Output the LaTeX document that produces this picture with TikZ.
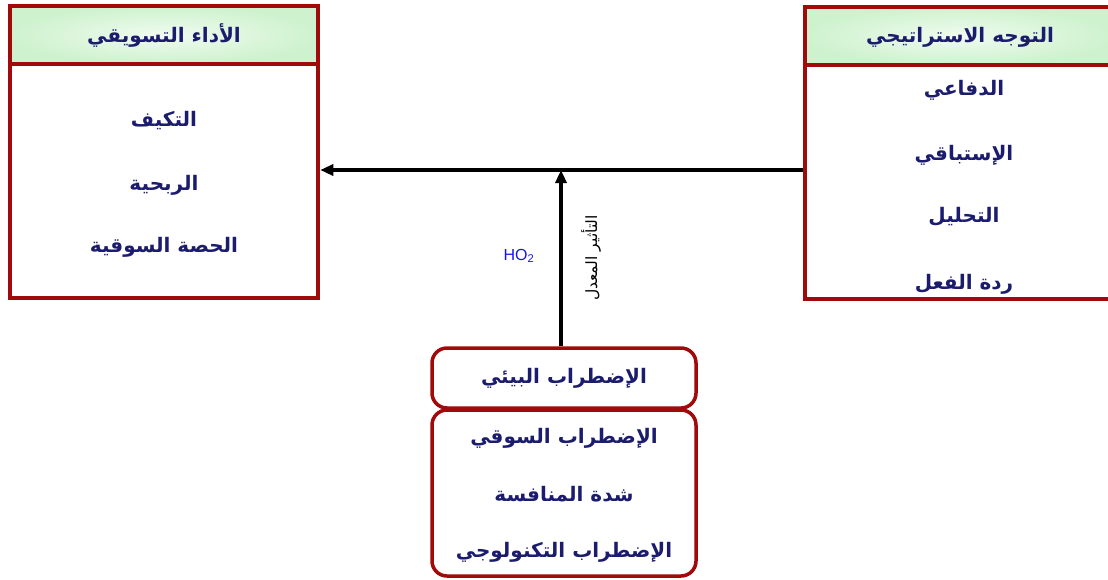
\documentclass[tikz,border=0pt]{standalone}
\usepackage{fontspec}
\TeXXeTstate=1
\newfontfamily\arabicfont[Script=Arabic]{DejaVu Sans}
\newfontfamily\libsans{Liberation Sans}
\usetikzlibrary{arrows.meta}
\definecolor{bordred}{RGB}{160,10,10}
\definecolor{hdrgreen}{RGB}{206,242,206}
\definecolor{navy}{RGB}{28,28,110}
\definecolor{hoblue}{RGB}{20,20,240}
\tikzset{
  hdr/.style={draw=bordred, line width=4.5pt, inner color=white!70!hdrgreen, outer color=hdrgreen, minimum width=#1, minimum height=58pt, inner sep=0pt},
  bodybox/.style={draw=bordred, line width=4.5pt, fill=white, inner sep=0pt},
  envbox/.style={draw=bordred, line width=3.5pt, rounded corners=15pt, fill=white, inner sep=0pt},
  artxt/.style={text=navy, font=\arabicfont\bfseries\fontsize{20}{22}\selectfont, inner sep=1pt},
  link/.style={draw=black, line width=3.2pt, -{Triangle[length=13pt,width=11pt]}},
}
\begin{document}
\begin{tikzpicture}[x=1pt,y=-1pt]
\useasboundingbox (0,0) rectangle (1108,579);
% left box
\node[bodybox, minimum width=308pt, minimum height=234pt] (lbody) at (164,181) {};
\node[hdr=308pt] (lhdr) at (164,35) {};
\node[artxt] (lh) at (lhdr.center) {\beginR الأداء التسويقي\endR};
\node[artxt] (l1) at (164,121) {\beginR التكيف\endR};
\node[artxt] (l2) at (164,185) {\beginR الربحية\endR};
\node[artxt] (l3) at (164,247) {\beginR الحصة السوقية\endR};
% right box
\node[bodybox, minimum width=306pt, minimum height=234pt] (rbody) at (958,182) {};
\node[hdr=306pt] (rhdr) at (958,36) {};
\node[artxt] (rh) at (960,37) {\beginR التوجه الاستراتيجي\endR};
\node[artxt] (r1) at (964,90) {\beginR الدفاعي\endR};
\node[artxt] (r2) at (964,155) {\beginR الإستباقي\endR};
\node[artxt] (r3) at (964,217) {\beginR التحليل\endR};
\node[artxt] (r4) at (964,284) {\beginR ردة الفعل\endR};
% environment boxes
\node[envbox, minimum width=264pt, minimum height=60pt] (env) at (564,378) {};
\node[artxt] (e0) at (env.center) {\beginR الإضطراب البيئي\endR};
\node[envbox, minimum width=264pt, minimum height=166pt] (envd) at (564,493) {};
\node[artxt] (e1) at (564,438) {\beginR الإضطراب السوقي\endR};
\node[artxt] (e2) at (564,494) {\beginR شدة المنافسة\endR};
\node[artxt] (e3) at (564,552) {\beginR الإضطراب التكنولوجي\endR};
% connectors
\coordinate (B) at ([xshift=-3pt]env.north);
\coordinate (J) at (B |- 0,170);
\draw[link] (rbody.west |- J) -- (lbody.east |- J);
\draw[link] (B) -- (J);
\node[text=hoblue, font=\libsans\fontsize{16}{18}\selectfont] (ho) at (519,256) {HO\textsubscript{2}};
\node[rotate=90, font=\arabicfont\fontsize{15.5}{17}\selectfont] (mod) at (591,258) {\beginR التأثير المعدل\endR};
\end{tikzpicture}
\end{document}
